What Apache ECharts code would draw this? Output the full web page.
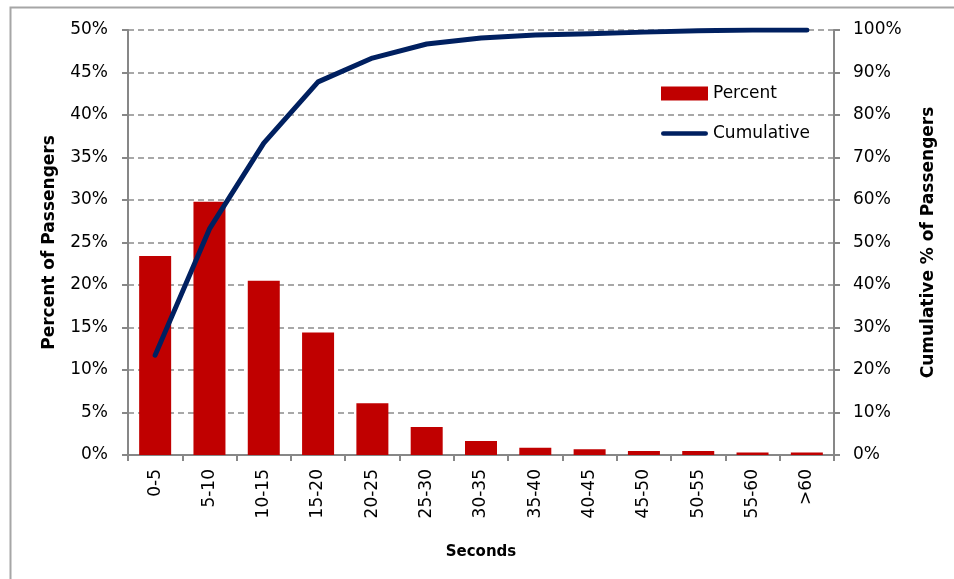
<!DOCTYPE html>
<html>
<head>
<meta charset="utf-8">
<script src="https://cdn.jsdelivr.net/npm/echarts@6/dist/echarts.min.js"></script>
<style>
html,body{margin:0;padding:0;background:#fff;}
#chart{width:954px;height:579px;}
</style>
</head>
<body>
<div id="chart"></div>
<script>
var categories = ['0-5','5-10','10-15','15-20','20-25','25-30','30-35','35-40','40-45','45-50','50-55','55-60','>60'];
var percentValues = [23.4, 29.8, 20.5, 14.4, 6.1, 3.3, 1.65, 0.86, 0.67, 0.47, 0.47, 0.3, 0.3];
var cumulativeValues = [23.5, 53.2, 73.4, 87.8, 93.4, 96.7, 98.1, 98.8, 99.1, 99.5, 99.8, 100, 100];
var leftTicks = {min: 0, max: 50, interval: 5};
var rightTicks = {min: 0, max: 100, interval: 10};

var FONT = 'DejaVu Sans';
var chart = echarts.init(document.getElementById('chart'), null, {renderer: 'canvas'});
var axisGray = '#878787';
chart.setOption({
  animation: false,
  backgroundColor: '#ffffff',
  textStyle: {fontFamily: FONT},
  graphic: [{
    type: 'rect', left: 8, top: 5, silent: true,
    shape: {x: 0, y: 0, width: 1000, height: 620},
    style: {fill: 'none', stroke: '#a6a6a6', lineWidth: 2}
  }],
  grid: {left: 128, right: 120, top: 30, bottom: 124, containLabel: false},
  legend: {
    orient: 'vertical', left: 656, top: 80, itemGap: 23,
    itemWidth: 47, itemHeight: 14, itemTextGap: 4,
    symbolKeepAspect: true,
    textStyle: {fontFamily: FONT, fontSize: 17, color: '#000'},
    data: [
      {name: 'Percent', icon: 'rect'},
      {name: 'Cumulative', icon: 'path://M5,0 L95,0 A5,5 0 0 1 95,10 L5,10 A5,5 0 0 1 5,0 Z'}
    ]
  },
  xAxis: {
    type: 'category', data: categories,
    name: 'Seconds', nameLocation: 'middle', nameGap: 90,
    nameTextStyle: {fontFamily: FONT, fontSize: 15, fontWeight: 'bold', color: '#000'},
    axisLine: {lineStyle: {color: axisGray, width: 2}},
    axisTick: {show: true, length: 6, lineStyle: {color: axisGray, width: 2}},
    axisLabel: {rotate: 90, margin: 14, fontSize: 17, color: '#000', fontFamily: FONT}
  },
  yAxis: [{
    type: 'value', min: leftTicks.min, max: leftTicks.max, interval: leftTicks.interval,
    name: 'Percent of Passengers', nameLocation: 'middle', nameGap: 70, nameRotate: 90,
    nameTextStyle: {fontFamily: FONT, fontSize: 17, fontWeight: 'bold', color: '#000'},
    axisLine: {show: true, lineStyle: {color: axisGray, width: 2}},
    axisTick: {show: true, length: 6, lineStyle: {color: axisGray, width: 2}},
    axisLabel: {formatter: '{value}%', margin: 20, fontSize: 17, color: '#000', fontFamily: FONT},
    splitLine: {show: true, lineStyle: {color: '#8c8c8c', width: 1.5, type: [6, 4]}}
  }, {
    type: 'value', min: rightTicks.min, max: rightTicks.max, interval: rightTicks.interval,
    position: 'right',
    name: 'Cumulative % of Passengers', nameLocation: 'middle', nameGap: 86, nameRotate: 90,
    nameTextStyle: {fontFamily: FONT, fontSize: 17, fontWeight: 'bold', color: '#000'},
    axisLine: {show: true, lineStyle: {color: axisGray, width: 2}},
    axisTick: {show: true, length: 6, lineStyle: {color: axisGray, width: 2}},
    axisLabel: {formatter: '{value}%', margin: 19, fontSize: 17, color: '#000', fontFamily: FONT},
    splitLine: {show: false}
  }],
  series: [{
    name: 'Percent', type: 'bar', data: percentValues, yAxisIndex: 0,
    barWidth: 32,
    itemStyle: {color: '#c00000'}
  }, {
    name: 'Cumulative', type: 'line', data: cumulativeValues, yAxisIndex: 1,
    symbol: 'none', smooth: false,
    lineStyle: {color: '#002060', width: 5, cap: 'round', join: 'round'},
    itemStyle: {color: '#002060'}
  }]
});
</script>
</body>
</html>
